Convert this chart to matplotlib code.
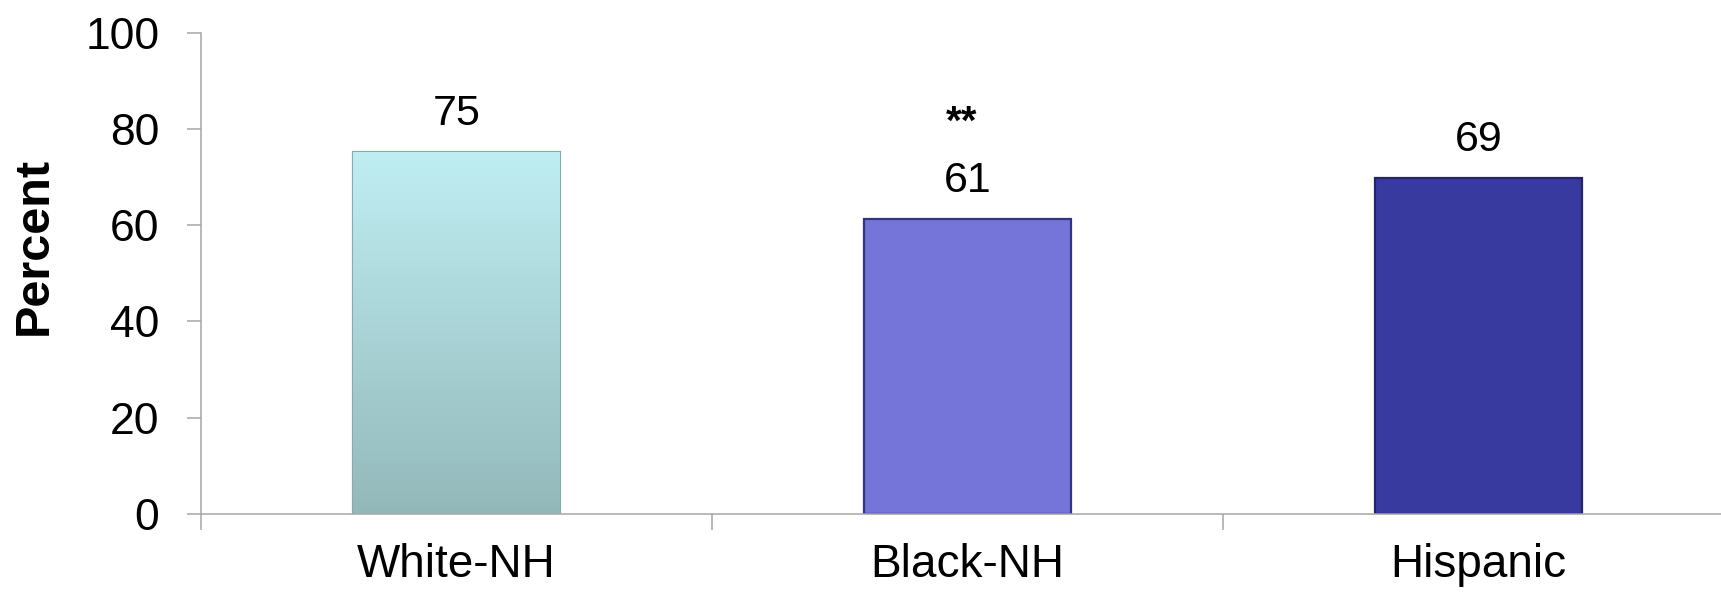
#!/usr/bin/env python3

import numpy as np
import matplotlib
matplotlib.use('Agg')
import matplotlib.pyplot as plt
from matplotlib.colors import LinearSegmentedColormap

# data
categories = ['White-NH', 'Black-NH', 'Hispanic']
percent = [75.2, 61.2, 69.8]
value_labels = ['75', '61', '69']
significance = ['', '**', '']

# styles
face_colors = ['#A9D4D7', '#7574D9', '#393A9F']
edge_colors = ['#86AAAD', '#34337E', '#23246A']
gradient_top = '#BFEEF2'
gradient_bottom = '#93B8BA'
axis_gray = '#A6A6A6'

plt.rcParams['font.family'] = ['Liberation Sans', 'DejaVu Sans']

fig = plt.figure(figsize=(17.21, 5.95), dpi=100)
ax = fig.add_axes([0.1168, 0.1366, 0.8907, 0.808])

x = np.arange(len(categories))
bars = ax.bar(x, percent, width=0.404, color=face_colors,
              edgecolor=edge_colors, linewidth=1.6, zorder=3)

# vertical gradient on the first bar, clipped to the bar itself
cmap = LinearSegmentedColormap.from_list('teal', [gradient_bottom, gradient_top])
b = bars[0]
grad = np.linspace(0, 1, 256).reshape(-1, 1)
im = ax.imshow(grad, cmap=cmap, origin='lower', aspect='auto',
               extent=(b.get_x(), b.get_x() + b.get_width(), 0, b.get_height()),
               zorder=3.5)
im.set_clip_path(b)

# value labels and significance marks
for bar, lab, sig in zip(bars, value_labels, significance):
    cx = bar.get_x() + bar.get_width() / 2
    ax.annotate(lab, (cx, bar.get_height()),
                xytext=(0, 13), textcoords='offset points',
                ha='center', va='bottom', fontsize=31)
    if sig:
        ax.annotate(sig, (cx, bar.get_height()),
                    xytext=(-4, 56), textcoords='offset points',
                    ha='center', va='bottom', fontsize=29, fontweight='bold')

ax.set_xlim(-0.5, 2.5)
ax.set_ylim(0, 100)
ax.set_yticks(range(0, 101, 20))

ax.set_xticks(x)
ax.set_xticklabels(categories)
ax.set_xticks(np.arange(-0.5, 3.0, 1.0), minor=True)

ax.tick_params(axis='x', which='major', length=0, pad=21, labelsize=33)
ax.tick_params(axis='x', which='minor', length=11.5, width=1.1,
               color=axis_gray, direction='out')
ax.tick_params(axis='y', length=10, width=1.1, color=axis_gray,
               pad=20, labelsize=32)

for side in ['top', 'right']:
    ax.spines[side].set_visible(False)
for side in ['left', 'bottom']:
    ax.spines[side].set_color(axis_gray)
    ax.spines[side].set_linewidth(1.1)
ax.spines['bottom'].set_zorder(4)

ax.set_ylabel('Percent', fontsize=35, fontweight='bold')
ax.yaxis.set_label_coords(-0.094, 0.557)

fig.savefig('out.png', dpi=100)
